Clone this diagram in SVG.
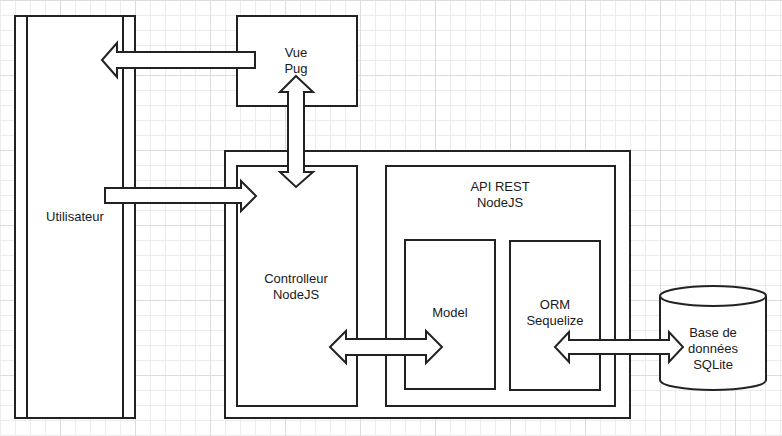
<svg xmlns="http://www.w3.org/2000/svg" width="782" height="436" viewBox="0 0 782 436">
<defs>
<pattern id="minor" width="15" height="15" patternUnits="userSpaceOnUse">
<path d="M0.5,0 V15 M0,0.5 H15" fill="none" stroke="#ececec" stroke-width="1"/>
</pattern>
<pattern id="major" x="60" y="0" width="75" height="75" patternUnits="userSpaceOnUse">
<path d="M0.5,0 V75 M0,0.5 H75" fill="none" stroke="#dcdcdc" stroke-width="1"/>
</pattern>
<style>
.s{fill:#fff;stroke:#222;stroke-width:2}
.l{fill:none;stroke:#222;stroke-width:2}
.a{fill:#fff;stroke:#222;stroke-width:2;stroke-linejoin:miter}
text{font-family:"Liberation Sans",Arial,sans-serif;font-size:13px;fill:#1a1a1a;text-anchor:middle}
</style>
</defs>
<rect width="782" height="436" fill="#fff"/>
<rect width="782" height="436" fill="url(#minor)"/>
<rect width="782" height="436" fill="url(#major)"/>

<g id="utilisateur">
<rect class="s" x="15" y="16" width="120" height="402"/>
<path class="l" d="M27,16 V418 M123,16 V418"/>
<text x="75" y="221">Utilisateur</text>
</g>

<g id="vue">
<rect class="s" x="237" y="16" width="120" height="90"/>
<text x="296" y="57">Vue</text>
<text x="296" y="73">Pug</text>
</g>

<g id="conteneur">
<rect class="s" x="225" y="151" width="405" height="267"/>
</g>

<g id="controlleur">
<rect class="s" x="237" y="166" width="120" height="240"/>
<text x="296" y="283">Controlleur</text>
<text x="296" y="299">NodeJS</text>
</g>

<g id="api">
<rect class="s" x="386" y="166" width="229" height="240"/>
<text x="500" y="191">API REST</text>
<text x="500" y="207">NodeJS</text>
</g>

<g id="model">
<rect class="s" x="405" y="240" width="90" height="149"/>
<text x="450" y="317">Model</text>
</g>

<g id="orm">
<rect class="s" x="510" y="241" width="90" height="149"/>
<text x="555" y="309">ORM</text>
<text x="555" y="325">Sequelize</text>
</g>

<g id="bdd">
<path class="s" d="M660,296 A53,10 0 0 1 766,296 V380 A53,10 0 0 1 660,380 Z"/>
<path class="l" d="M660,296 A53,10 0 0 0 766,296"/>
<text x="713" y="337">Base de</text>
<text x="713" y="353">données</text>
<text x="713" y="369">SQLite</text>
</g>

<g id="connecteurs">
<path class="a" d="M255,52 H117 V43 L102,60 L117,77 V68 H255 Z"/>
<path class="a" d="M105,188 H241 V181 L256,196 L241,211 V203 H105 Z"/>
<path class="a" d="M296,76 L313,92 H304 V172 H313 L296,187 L280,172 H288 V92 H280 Z"/>
<path class="a" d="M330,347 L346,331 V339 H426 V331 L442,347 L426,363 V355 H346 V363 Z"/>
<path class="a" d="M555,347 L569,332 V340 H669 V332 L683,347 L669,362 V354 H569 V362 Z"/>
</g>
</svg>
